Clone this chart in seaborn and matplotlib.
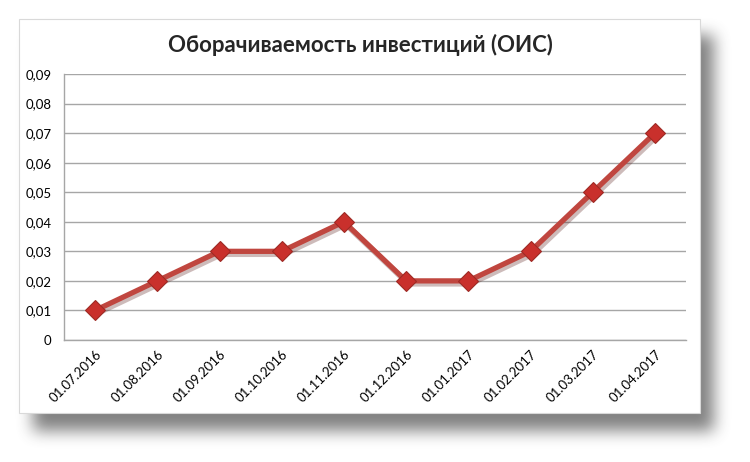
import numpy as np
import pandas as pd
import matplotlib
matplotlib.use("Agg")
import matplotlib.pyplot as plt
import matplotlib.patches as mpatches
import matplotlib.transforms as mtransforms
from matplotlib.ticker import FuncFormatter, MultipleLocator
import seaborn as sns

dates = ["01.07.2016", "01.08.2016", "01.09.2016", "01.10.2016", "01.11.2016",
         "01.12.2016", "01.01.2017", "01.02.2017", "01.03.2017", "01.04.2017"]
ois = [0.01, 0.02, 0.03, 0.03, 0.04, 0.02, 0.02, 0.03, 0.05, 0.07]

df = pd.DataFrame({"date": dates, "ois": ois})

sns.set_style("white")
plt.rcParams["font.family"] = ["Lato", "DejaVu Sans"]

fig = plt.figure(figsize=(7.5, 4.62), dpi=100)
fig.patch.set_facecolor("white")

# chart box with soft blurred drop shadow (Excel look)
W, H = 750, 462
bx0, by0, bx1, by1 = 19, 19, 700, 413
mask = np.zeros((H, W))
mask[by0 + 16:by1 + 18, bx0 + 14:bx1 + 14] = 1.0


def box_blur(a, r):
    p = np.pad(a, r, mode="constant")
    c = np.cumsum(np.pad(p, ((1, 0), (0, 0))), axis=0)
    p = (c[2 * r + 1:] - c[:-2 * r - 1]) / (2 * r + 1)
    c = np.cumsum(np.pad(p, ((0, 0), (1, 0))), axis=1)
    p = (c[:, 2 * r + 1:] - c[:, :-2 * r - 1]) / (2 * r + 1)
    return p


blur = mask
for _ in range(3):
    blur = box_blur(blur, 7)
shadow = np.zeros((H, W, 4))
shadow[..., :3] = 0.3
shadow[..., 3] = blur * 0.7
fig.figimage(shadow[::-1], xo=0, yo=0, origin="lower", zorder=0)

box = mpatches.Rectangle((bx0 / W, 1 - by1 / H), (bx1 - bx0) / W, (by1 - by0) / H,
                         transform=fig.transFigure, facecolor="white",
                         edgecolor="#d9d9d9", linewidth=0.8, zorder=1)
fig.patches.append(box)

ax = fig.add_axes([64 / W, 1 - 340 / H, (686 - 64) / W, (340 - 74) / H])
ax.set_facecolor("none")
ax.set_zorder(2)

# shadow line under the series
off = mtransforms.ScaledTranslation(1.5 / 72, -2 / 72, fig.dpi_scale_trans)
sns.lineplot(data=df, x="date", y="ois", sort=False, ax=ax, color="#5a1f1c",
             linewidth=4.2, alpha=0.3, legend=False, transform=ax.transData + off)
sns.lineplot(data=df, x="date", y="ois", sort=False, ax=ax, color="#c0463f",
             linewidth=3.8, marker="D", markersize=10,
             markerfacecolor="#c9302c", markeredgecolor="#9e2a25",
             markeredgewidth=0.8, legend=False)

ax.set_xlim(-0.5, len(dates) - 0.5)
ax.set_ylim(0, 0.09)
ax.yaxis.set_major_locator(MultipleLocator(0.01))
ax.yaxis.set_major_formatter(FuncFormatter(
    lambda v, p: "0" if abs(v) < 1e-9 else f"{v:.2f}".replace(".", ",")))
ax.grid(axis="y", color="#a6a6a6", linewidth=1.0)
ax.set_axisbelow(True)
for s in ["top", "right"]:
    ax.spines[s].set_visible(False)
for s in ["left", "bottom"]:
    ax.spines[s].set_color("#a6a6a6")
    ax.spines[s].set_linewidth(1.0)
ax.tick_params(axis="both", length=0, labelsize=9.5, colors="#000000")
ax.tick_params(axis="y", pad=9)
ax.tick_params(axis="x", pad=6)
ax.set_xticks(range(len(dates)))
ax.set_xticklabels(dates, rotation=45, ha="right", rotation_mode="anchor")
ax.set_xlabel("")
ax.set_ylabel("")

fig.text(360 / W, 1 - 45 / H, "Оборачиваемость инвестиций (ОИС)",
         ha="center", va="center", fontsize=16, fontweight="bold", zorder=3)

fig.savefig("out.png", dpi=100)
